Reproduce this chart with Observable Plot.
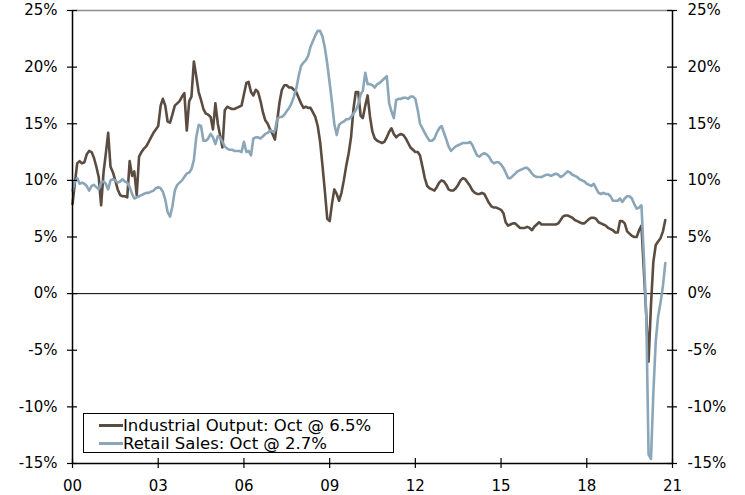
<!DOCTYPE html>
<html><head><meta charset="utf-8">
<script src="https://cdn.jsdelivr.net/npm/d3@7"></script>
<script src="https://cdn.jsdelivr.net/npm/@observablehq/plot@0.6"></script>
<style>
body{margin:0;background:#fff;}
#wrap{position:relative;width:745px;height:495px;font-family:"DejaVu Sans",Verdana,sans-serif;}
#legend{position:absolute;left:83px;top:413px;width:309px;height:38px;border:1px solid #000;background:#fff;font-size:16.5px;color:#000;}
.row{position:absolute;left:15px;height:18px;display:flex;align-items:center;white-space:nowrap;}
.sw{width:24px;height:3px;margin-right:0px;}
</style></head><body><div id="wrap"></div>
<script>
const seriesNames = ["Industrial Output: Oct @ 6.5%", "Retail Sales: Oct @ 2.7%"];
const seriesColors = ["#5b4c41", "#8aa6b8"];
const startYear = 2000;
const xTickYears = [2000, 2003, 2006, 2009, 2012, 2015, 2018, 2021];
const yTicks = [-15, -10, -5, 0, 5, 10, 15, 20, 25];

// monthly, Jan 2000 .. Oct 2020
const ioValues = [
  7.9, 9.8, 11.5, 11.7, 11.5, 11.6, 12.3, 12.6, 12.5, 12.0, 11.2, 10.3,
  7.8, 10.7, 12.3, 14.2, 11.2, 10.7, 10.0, 9.2, 8.7, 8.6, 8.6, 8.5,
  11.7, 10.4, 10.8, 8.7, 12.1, 12.5, 12.8, 13.0, 13.4, 13.8, 14.2, 14.5,
  14.8, 16.6, 17.2, 16.6, 15.2, 15.1, 15.8, 16.6, 16.8, 17.0, 17.4, 17.7,
  14.4, 17.0, 17.4, 20.5, 19.2, 17.8, 17.1, 16.3, 15.9, 15.8, 15.6, 14.5,
  16.8, 15.0, 14.0, 12.9, 16.2, 16.5, 16.4, 16.3, 16.3, 16.4, 16.5, 16.6,
  17.6, 18.6, 18.7, 17.8, 17.5, 18.0, 17.8, 17.0, 16.0, 15.3, 15.0, 14.5,
  14.1, 13.6, 15.2, 16.9, 18.0, 18.4, 18.4, 18.2, 18.2, 18.0, 17.8, 17.3,
  16.8, 16.4, 16.5, 16.4, 16.4, 16.0, 15.6, 14.8, 13.4, 11.3, 9.0, 6.6,
  6.4, 8.0, 9.2, 8.8, 8.2, 8.9, 10.0, 11.3, 12.4, 13.8, 16.3, 17.8,
  17.8, 15.7, 15.5, 16.6, 17.5, 15.6, 14.3, 13.7, 13.5, 13.4, 13.3, 13.4,
  13.8, 14.3, 14.6, 14.1, 13.8, 14.0, 14.1, 14.0, 13.7, 13.3, 12.9, 12.7,
  12.5, 12.5, 12.2, 11.2, 10.2, 9.5, 9.3, 9.2, 9.1, 9.4, 9.8, 10.0,
  9.9, 9.6, 9.2, 9.1, 9.1, 9.3, 9.6, 10.0, 10.2, 10.1, 9.8, 9.5,
  9.1, 8.9, 8.8, 8.8, 8.9, 8.8, 8.4, 8.0, 7.7, 7.6, 7.6, 7.5,
  7.4, 7.1, 6.3, 6.0, 6.1, 6.2, 6.2, 6.0, 5.8, 5.8, 5.8, 5.9,
  5.8, 5.6, 5.9, 6.1, 6.3, 6.1, 6.1, 6.1, 6.1, 6.1, 6.1, 6.1,
  6.2, 6.5, 6.8, 6.9, 6.9, 6.8, 6.7, 6.5, 6.4, 6.3, 6.2, 6.2,
  6.4, 6.6, 6.7, 6.7, 6.6, 6.3, 6.2, 6.1, 6.0, 5.8, 5.7, 5.6,
  5.4, 5.4, 6.4, 6.4, 6.2, 5.5, 5.3, 5.1, 5.0, 5.0, 5.6, 6.0,
  2.0, -2.0, -6.0, -1.0, 2.8, 4.3, 4.6, 4.9, 5.5, 6.5
];
const rsValues = [
  9.1, 9.9, 10.2, 9.7, 9.8, 9.7, 9.5, 9.1, 9.5, 9.6, 9.4, 9.2,
  9.8, 9.9, 9.7, 9.2, 10.0, 10.1, 10.0, 9.8, 9.9, 10.1, 9.9, 9.8,
  9.4, 8.8, 8.4, 8.5, 8.6, 8.7, 8.8, 8.9, 8.9, 9.0, 9.1, 9.3,
  9.4, 9.3, 9.0, 8.3, 7.2, 6.8, 7.7, 9.1, 9.6, 9.8, 10.0, 10.3,
  10.6, 10.7, 11.0, 11.8, 13.8, 14.9, 14.8, 13.5, 13.5, 13.7, 14.1, 13.8,
  13.2, 13.9, 13.8, 13.4, 13.0, 12.8, 12.7, 12.7, 12.6, 12.6, 12.6, 12.5,
  13.4, 12.5, 12.6, 12.2, 13.7, 13.8, 13.8, 13.7, 13.9, 14.1, 14.2, 14.4,
  14.3, 14.4, 15.4, 15.6, 15.6, 15.8, 16.1, 16.4, 16.8, 17.4, 18.1, 19.2,
  20.1, 20.4, 20.6, 21.0, 21.8, 22.3, 22.8, 23.2, 23.2, 22.7, 21.7, 20.3,
  18.6, 16.8, 15.0, 14.0, 14.9, 15.1, 15.2, 15.4, 15.4, 15.6, 15.9, 16.2,
  16.7, 17.6, 17.9, 19.5, 18.5, 18.5, 18.4, 18.2, 18.5, 18.6, 18.8, 19.0,
  19.2, 16.8, 16.1, 15.5, 17.1, 17.2, 17.2, 17.3, 17.3, 17.2, 17.4, 17.4,
  17.2, 16.2, 15.0, 14.6, 14.2, 13.8, 13.5, 13.5, 13.7, 14.2, 14.6, 14.8,
  14.2, 13.6, 13.0, 12.6, 12.8, 13.0, 13.1, 13.2, 13.3, 13.3, 13.3, 13.4,
  13.1, 12.6, 12.2, 12.1, 12.3, 12.4, 12.3, 12.1, 11.7, 11.5, 11.6, 11.6,
  11.4, 11.1, 10.7, 10.2, 10.2, 10.4, 10.6, 10.8, 10.9, 11.0, 11.1, 11.1,
  10.9, 10.6, 10.4, 10.3, 10.3, 10.3, 10.4, 10.5, 10.5, 10.4, 10.5, 10.6,
  10.5, 10.3, 10.4, 10.6, 10.8, 10.7, 10.5, 10.4, 10.3, 10.1, 10.0, 9.9,
  9.7, 9.6, 9.5, 9.7, 9.3, 8.9, 8.8, 8.9, 8.8, 8.8, 8.6, 8.2,
  8.2, 8.2, 8.4, 8.1, 8.4, 8.6, 8.6, 8.4, 7.9, 7.5, 7.6, 7.8,
  3.3, -2.0, -14.2, -14.6, -8.8, -4.2, -2.0, -0.8, 0.7, 2.7
];

const monthDate = i => new Date(Date.UTC(startYear, i, 1));
const ioData = ioValues.map((v, i) => ({date: monthDate(i), value: v}));
const rsData = rsValues.map((v, i) => ({date: monthDate(i), value: v}));
const xTicks = xTickYears.map(y => new Date(Date.UTC(y, 0, 1)));
const xDomain = [xTicks[0], xTicks[xTicks.length - 1]];

const W = 745, H = 495, mL = 72, mR = 73, mT = 10, mB = 32;
const plotW = W - mL - mR, plotH = H - mT - mB;
const font = '"DejaVu Sans", Verdana, sans-serif';

const chart = Plot.plot({
  width: W, height: H,
  marginLeft: mL, marginRight: mR, marginTop: mT, marginBottom: mB,
  style: {fontFamily: font, fontSize: "15px", color: "#000", background: "#fff", overflow: "visible"},
  x: {type: "utc", domain: xDomain, label: null},
  y: {domain: [-15, 25], label: null},
  marks: [
    Plot.ruleY([25], {stroke: "#8c8c8c", strokeWidth: 1.3}),
    Plot.ruleY([0], {stroke: "#000", strokeWidth: 1}),
    Plot.line(ioData, {x: "date", y: "value", stroke: seriesColors[0], strokeWidth: 2.6, curve: "linear"}),
    Plot.line(rsData, {x: "date", y: "value", stroke: seriesColors[1], strokeWidth: 2.6, curve: "linear"}),
    Plot.ruleY([-15], {stroke: "#000", strokeWidth: 1.5}),
    Plot.ruleX([xDomain[0]], {stroke: "#000", strokeWidth: 1.5}),
    Plot.ruleX([xDomain[1]], {stroke: "#000", strokeWidth: 1.5}),
    Plot.tickX(xTicks, {x: d => d, stroke: "#000", strokeWidth: 1.2, insetTop: plotH - 5, insetBottom: -5}),
    Plot.tickY(yTicks, {y: d => d, stroke: "#000", strokeWidth: 1.2, insetLeft: -5, insetRight: plotW - 5}),
    Plot.tickY(yTicks, {y: d => d, stroke: "#000", strokeWidth: 1.2, insetLeft: plotW - 5, insetRight: -5}),
    Plot.axisY({anchor: "left", ticks: yTicks, tickSize: 0, tickPadding: 15, tickFormat: d => `${d}%`, fontSize: 15}),
    Plot.axisY({anchor: "right", ticks: yTicks, tickSize: 0, tickPadding: 15, tickFormat: d => `${d}%`, fontSize: 15}),
    Plot.axisX({ticks: xTicks, tickSize: 0, tickPadding: 17, tickFormat: d => String(d.getUTCFullYear() % 100).padStart(2, "0"), fontSize: 15})
  ]
});

const wrap = document.getElementById("wrap");
wrap.appendChild(chart);

const legend = document.createElement("div");
legend.id = "legend";
seriesNames.forEach((name, i) => {
  const row = document.createElement("div");
  row.className = "row";
  row.style.top = (2 + i * 18) + "px";
  const sw = document.createElement("span");
  sw.className = "sw";
  sw.style.background = seriesColors[i];
  const tx = document.createElement("span");
  tx.textContent = name;
  row.appendChild(sw);
  row.appendChild(tx);
  legend.appendChild(row);
});
wrap.appendChild(legend);
</script></body></html>
